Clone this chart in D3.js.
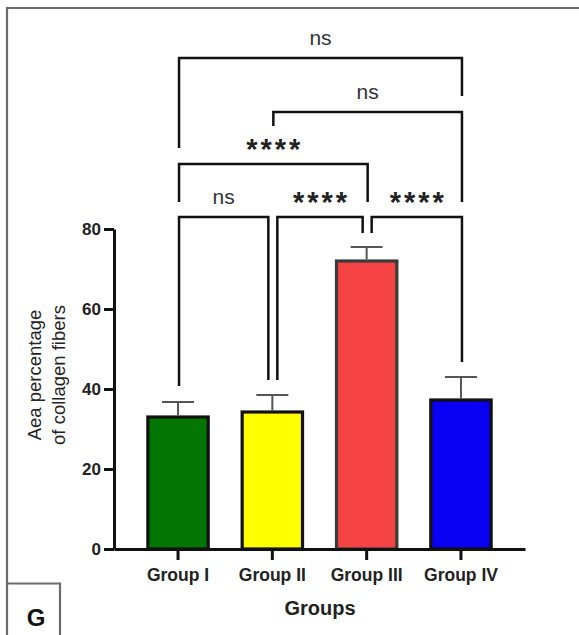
<!DOCTYPE html>
<html>
<head>
<meta charset="utf-8">
<script src="https://cdn.jsdelivr.net/npm/d3@7"></script>
<style>
  html, body { margin: 0; padding: 0; background: #fff; }
  svg { display: block; font-family: "Liberation Sans", Arial, Helvetica, sans-serif; }
</style>
</head>
<body>
<svg id="chart" width="579" height="635"></svg>
<script>
// ---- data ----
const categories = ["Group I", "Group II", "Group III", "Group IV"];
const means = [33, 34.25, 72, 37.25];
const errors = [3.75, 4.25, 3.5, 5.75];
const barColors = ["#037503", "#ffff00", "#f54343", "#0800f2"];
const barStrokes = ["#111", "#111", "#3a3a3a", "#111"];
const yTicks = [0, 20, 40, 60, 80];
// significance brackets: group indices, bracket level, leg ends (value units), label
const brackets = [
  { a: 0, b: 1, level: 83,     endA: 40.75, endB: 42.25, label: "ns" },
  { a: 1, b: 2, level: 83,     endA: 42.25, endB: 79,    label: "****" },
  { a: 2, b: 3, level: 83,     endA: 79,    endB: 46.75, label: "****" },
  { a: 0, b: 2, level: 96.25,  endA: 86.75, endB: 86.75, label: "****" },
  { a: 1, b: 3, level: 109.25, endA: 105.75, endB: 86.75, label: "ns" },
  { a: 0, b: 3, level: 122.75, endA: 100.25, endB: 113.25, label: "ns" }
];
const yTitleLines = ["Aea percentage", "of collagen fibers"];
const xTitle = "Groups";
const panelLetter = "G";

// ---- layout ----
const svg = d3.select("#chart");

const x = d3.scaleBand().domain(categories).range([114, 525]).paddingInner(0.36).paddingOuter(0.359);
const y = d3.scaleLinear().domain([0, 80]).range([549, 229]);

// frame
const frame = svg.append("g").attr("stroke", "#6b6b6b").attr("stroke-width", 2.2).attr("fill", "none");
frame.append("path").attr("d", "M7,635 V8 H579");
frame.append("path").attr("d", "M7,583.5 H60 V635");
svg.append("text").attr("x", 36).attr("y", 626).attr("text-anchor", "middle")
  .attr("font-size", 24).attr("font-weight", "bold").attr("fill", "#111").text(panelLetter);

// bars
svg.append("g").selectAll("rect").data(categories).join("rect")
  .attr("x", d => x(d))
  .attr("y", (d, i) => y(means[i]))
  .attr("width", x.bandwidth())
  .attr("height", (d, i) => y(0) - y(means[i]))
  .attr("fill", (d, i) => barColors[i])
  .attr("stroke", (d, i) => barStrokes[i])
  .attr("stroke-width", 3.2);

// error bars (upper only)
const eb = svg.append("g").attr("stroke", "#555").attr("stroke-width", 2);
categories.forEach((c, i) => {
  const cx = x(c) + x.bandwidth() / 2;
  eb.append("line").attr("x1", cx).attr("x2", cx).attr("y1", y(means[i]) - 1.6).attr("y2", y(means[i] + errors[i]));
  eb.append("line").attr("x1", cx - 16).attr("x2", cx + 16).attr("y1", y(means[i] + errors[i])).attr("y2", y(means[i] + errors[i]));
});

// axes
const yAxis = d3.axisLeft(y).tickValues(yTicks).tickSize(10).tickSizeOuter(0).tickPadding(3);
const gy = svg.append("g").attr("transform", "translate(114,0)").call(yAxis);
gy.selectAll("path, line").attr("stroke", "#111").attr("stroke-width", 3);
gy.selectAll("text").attr("font-size", 17).attr("font-weight", "bold").attr("fill", "#222")
  .attr("font-family", "Liberation Sans, Arial, sans-serif");

const xAxis = d3.axisBottom(x).tickSize(11).tickSizeOuter(0).tickPadding(9);
const gx = svg.append("g").attr("transform", "translate(0,549)").call(xAxis);
gx.selectAll("path, line").attr("stroke", "#111").attr("stroke-width", 3);
gx.selectAll("text").attr("font-size", 17.5).attr("font-weight", "bold").attr("fill", "#222")
  .attr("font-family", "Liberation Sans, Arial, sans-serif");

// axis titles
svg.append("text").attr("x", 320).attr("y", 615).attr("text-anchor", "middle")
  .attr("font-size", 20).attr("font-weight", "bold").attr("fill", "#222").text(xTitle);
const yt = svg.append("text").attr("transform", "translate(0,375) rotate(-90)")
  .attr("text-anchor", "middle").attr("font-size", 18.5).attr("fill", "#222");
yt.append("tspan").attr("x", 0).attr("y", 41).text(yTitleLines[0]);
yt.append("tspan").attr("x", 0).attr("y", 65).text(yTitleLines[1]);

// significance brackets
const bg = svg.append("g");
brackets.forEach(bk => {
  const adjacent = bk.b - bk.a === 1;
  const xa = x(categories[bk.a]) + x.bandwidth() / 2 + (adjacent && bk.a > 0 ? 5 : 1);
  const xb = x(categories[bk.b]) + x.bandwidth() / 2 + (adjacent && bk.b < 3 ? -4 : 1);
  bg.append("path")
    .attr("d", `M${xa},${y(bk.endA)} V${y(bk.level)} H${xb} V${y(bk.endB)}`)
    .attr("fill", "none").attr("stroke", "#111").attr("stroke-width", 2.5);
  const mid = (xa + xb) / 2;
  if (bk.label === "ns") {
    bg.append("text").attr("x", mid).attr("y", y(bk.level) - 13)
      .attr("text-anchor", "middle").attr("font-size", 21).attr("fill", "#333").text(bk.label);
  } else {
    bg.append("text").attr("x", mid + 1.5).attr("y", y(bk.level) - 5)
      .attr("text-anchor", "middle").attr("font-size", 29).attr("font-weight", "bold")
      .attr("letter-spacing", 3).attr("fill", "#222").text(bk.label);
  }
});
</script>
</body>
</html>
